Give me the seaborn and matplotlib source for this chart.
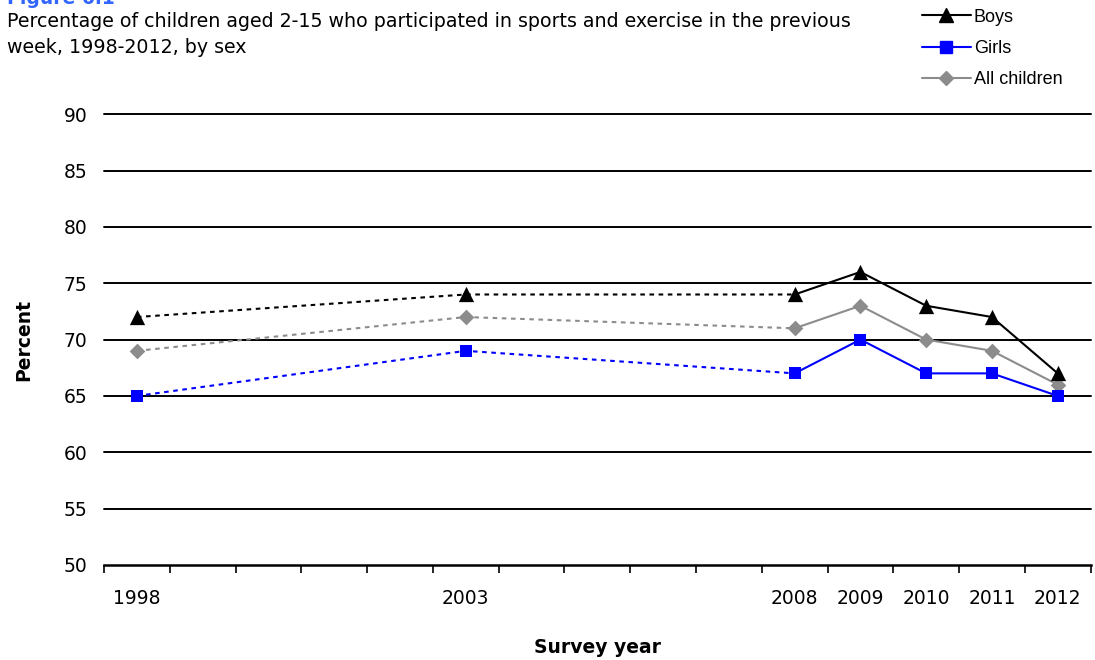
import matplotlib
matplotlib.use("Agg")
import matplotlib.pyplot as plt
from matplotlib.lines import Line2D
import seaborn as sns
import pandas as pd

# Survey data: percentage of children aged 2-15 who took part in sport / exercise
years = [1998, 2003, 2008, 2009, 2010, 2011, 2012]
boys = [72, 74, 74, 76, 73, 72, 67]
girls = [65, 69, 67, 70, 67, 67, 65]
all_children = [69, 72, 71, 73, 70, 69, 66]
series_names = ["Boys", "Girls", "All children"]
year_span = list(range(1998, 2013))

sns.set_theme(style="white")
plt.rcParams["font.family"] = ["DejaVu Sans"]
plt.rcParams["text.color"] = "black"
plt.rcParams["axes.labelcolor"] = "black"
plt.rcParams["xtick.color"] = "black"
plt.rcParams["ytick.color"] = "black"

fig = plt.figure(figsize=(10.95, 6.6), dpi=100)
ax = fig.add_axes([0.095, 0.144, 0.901, 0.683])

rows = []
for name, vals in zip(series_names, [boys, girls, all_children]):
    for y, v in zip(years, vals):
        rows.append({"series": name, "year": y, "pos": year_span.index(y), "value": v})
df = pd.DataFrame(rows)

styles = {
    "Boys": dict(color="black", marker="^", ms=11),
    "Girls": dict(color="#0000FF", marker="s", ms=9),
    "All children": dict(color="#8C8C8C", marker="D", ms=8),
}

# Gridlines
for g in range(55, 91, 5):
    ax.axhline(g, color="black", lw=1.4, zorder=1, clip_on=False)

# Draw grey first, then girls, then boys on top
for name in ["All children", "Girls", "Boys"]:
    st = styles[name]
    sub = df[df["series"] == name]
    early = sub[sub["year"] <= 2008]
    late = sub[sub["year"] >= 2008]
    sns.lineplot(data=early, x="pos", y="value", ax=ax, color=st["color"],
                 lw=1.5, linestyle=(0, (2.2, 2.2)), estimator=None, sort=False,
                 legend=False, zorder=3)
    sns.lineplot(data=late, x="pos", y="value", ax=ax, color=st["color"],
                 lw=1.5, estimator=None, sort=False, legend=False, zorder=3)
    sns.scatterplot(data=sub, x="pos", y="value", ax=ax, color=st["color"],
                    marker=st["marker"], s=st["ms"] ** 2, edgecolor=st["color"],
                    linewidth=0, legend=False, zorder=4, clip_on=False)

ax.set_xlim(-0.5, len(year_span) - 0.5)
ax.set_ylim(50, 90)
ax.set_yticks(range(50, 91, 5))
ax.set_xticks([year_span.index(y) for y in years])
ax.set_xticklabels([str(y) for y in years], fontsize=13.5)
ax.set_xticks([i - 0.5 for i in range(len(year_span) + 1)], minor=True)
ax.tick_params(axis="x", which="major", length=0, pad=17)
ax.tick_params(axis="x", which="minor", length=6, width=1.2, color="black", direction="out")
ax.tick_params(axis="y", which="major", length=5, width=1.2, color="black",
               direction="out", labelsize=13.5, pad=7)
ax.tick_params(axis="x", bottom=True, which="both")

for side in ["top", "right", "left"]:
    ax.spines[side].set_visible(False)
ax.spines["bottom"].set_color("black")
ax.spines["bottom"].set_linewidth(1.8)

ax.set_xlabel("Survey year", fontsize=13.5, fontweight="bold", labelpad=22)
ax.set_ylabel("Percent", fontsize=13.5, fontweight="bold", labelpad=22)

# Headings
fig.text(0.006, 1.003, "Figure 6.1", color="#3366FF", fontsize=13.5, fontweight="bold",
         va="center", ha="left")
fig.text(0.006, 0.982, "Percentage of children aged 2-15 who participated in sports and exercise in the previous\nweek, 1998-2012, by sex",
         fontsize=13.7, va="top", ha="left", linespacing=1.5)

# Legend
handles = [
    Line2D([], [], color="black", lw=1.5, marker="^", ms=10),
    Line2D([], [], color="#0000FF", lw=1.5, marker="s", ms=8),
    Line2D([], [], color="#8C8C8C", lw=1.5, marker="D", ms=7),
]
fig.legend(handles, series_names, loc="upper left", bbox_to_anchor=(0.835, 0.998),
           frameon=False, prop={"family": "Liberation Sans", "size": 13},
           handlelength=2.75, handletextpad=0.15, labelspacing=0.8, borderaxespad=0)

fig.savefig("out.png", dpi=100)
